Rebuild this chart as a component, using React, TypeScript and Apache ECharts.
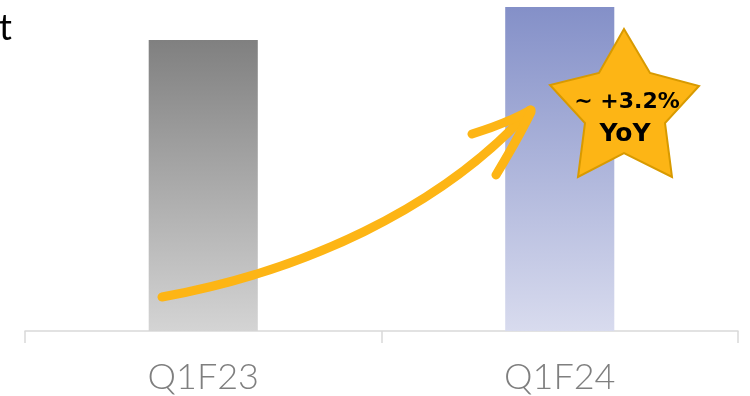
import React, { useEffect, useRef } from "react";
import * as echarts from "echarts";

const categories = ["Q1F23", "Q1F24"];
const values = [291, 324];
const yMax = 330;
const growthLabel = "~ +3.2%";
const growthSub = "YoY";

export default function App() {
  const ref = useRef<HTMLDivElement>(null);
  useEffect(() => {
    const chart = echarts.init(ref.current!, null, { renderer: "svg" });
    const grad = (top: string, bottom: string) =>
      new echarts.graphic.LinearGradient(0, 0, 0, 1, [
        { offset: 0, color: top },
        { offset: 1, color: bottom },
      ]);
    const barColors = [grad("#808080", "#d4d4d4"), grad("#8490c8", "#d8dbee")];
    const yellow = "#fdb515";
    chart.setOption({
      animation: false,
      grid: { left: 25, right: 12, top: 1, bottom: 65 },
      xAxis: {
        type: "category",
        data: categories,
        axisLine: { lineStyle: { color: "#d9d9d9", width: 1.5 } },
        axisTick: { show: true, length: 12, lineStyle: { color: "#d9d9d9", width: 1.5 } },
        axisLabel: {
          color: "#7f7f7f",
          fontSize: 36,
          fontFamily: "Lato",
          fontWeight: 300,
          margin: 26,
        },
      },
      yAxis: { type: "value", min: 0, max: yMax, show: false, splitLine: { show: false } },
      series: [
        {
          type: "bar",
          barWidth: "30.6%",
          data: values.map((v, i) => ({ value: v, itemStyle: { color: barColors[i] } })),
        },
      ],
      graphic: [
        {
          type: "text",
          left: -1,
          top: 8,
          style: { text: "t", fontSize: 36, fontFamily: "Lato", fill: "#000" },
        },
        {
          type: "bezierCurve",
          shape: { x1: 162, y1: 297, cpx1: 300, cpy1: 272, cpx2: 440, cpy2: 210, x2: 530, y2: 110 },
          style: { stroke: yellow, lineWidth: 9, lineCap: "round", fill: null },
          z: 10,
        },
        {
          type: "bezierCurve",
          shape: { x1: 472, y1: 134, cpx1: 505, cpy1: 124, cpx2: 520, cpy2: 116, x2: 531, y2: 110 },
          style: { stroke: yellow, lineWidth: 9, lineCap: "round", fill: null },
          z: 10,
        },
        {
          type: "bezierCurve",
          shape: { x1: 531, y1: 112, cpx1: 520, cpy1: 135, cpx2: 505, cpy2: 160, x2: 496, y2: 175 },
          style: { stroke: yellow, lineWidth: 9, lineCap: "round", fill: null },
          z: 10,
        },
        {
          type: "polygon",
          shape: {
            points: [
              [624, 29], [650, 73], [699, 86], [665, 123], [672, 177],
              [624, 153], [578, 177], [585, 123], [550, 85], [599, 73],
            ],
          },
          style: { fill: yellow, stroke: "#d89a00", lineWidth: 2, lineJoin: "miter" },
          z: 11,
        },
        {
          type: "text",
          x: 627,
          y: 100,
          style: {
            text: growthLabel,
            fontSize: 22,
            fontWeight: "bold",
            fontFamily: "DejaVu Sans",
            fill: "#000",
            align: "center",
            verticalAlign: "middle",
          },
          z: 12,
        },
        {
          type: "text",
          x: 625,
          y: 132,
          style: {
            text: growthSub,
            fontSize: 25,
            fontWeight: "bold",
            fontFamily: "DejaVu Sans",
            fill: "#000",
            align: "center",
            verticalAlign: "middle",
          },
          z: 12,
        },
      ],
    });
    return () => chart.dispose();
  }, []);
  return <div ref={ref} style={{ width: 750, height: 396, position: "fixed", left: 0, top: 0 }} />;
}
